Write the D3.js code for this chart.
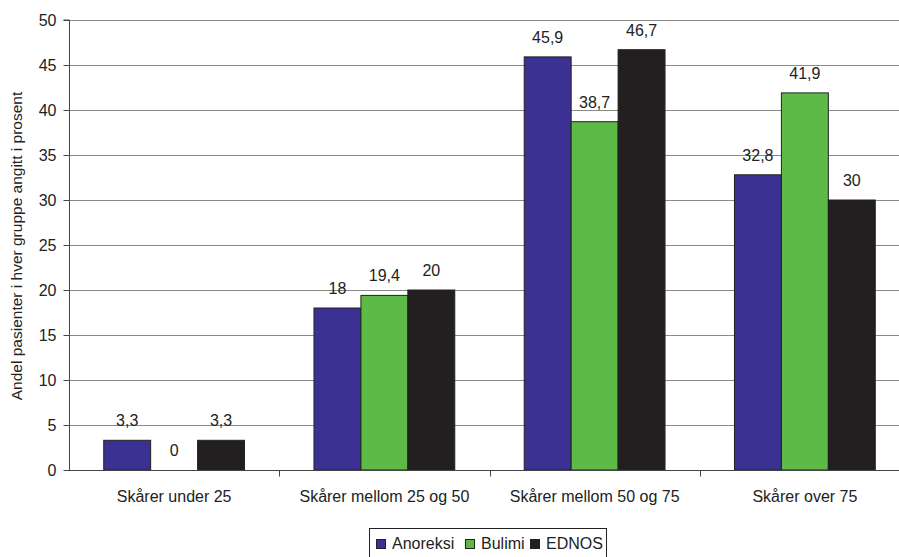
<!DOCTYPE html>
<html>
<head>
<meta charset="utf-8">
<script src="https://cdn.jsdelivr.net/npm/d3@7"></script>
<style>
  body { margin: 0; background: #fff; }
  svg { font-family: "Liberation Sans", Arial, sans-serif; }
</style>
</head>
<body>
<svg id="chart" width="899" height="557"></svg>
<script>
const categories = ["Skårer under 25", "Skårer mellom 25 og 50", "Skårer mellom 50 og 75", "Skårer over 75"];
const seriesNames = ["Anoreksi", "Bulimi", "EDNOS"];
const anoreksi = [3.3, 18, 45.9, 32.8];
const bulimi = [0, 19.4, 38.7, 41.9];
const ednos = [3.3, 20, 46.7, 30];
const yTicks = [0, 5, 10, 15, 20, 25, 30, 35, 40, 45, 50];
const colors = ["#3a3192", "#5eba47", "#231f20"];

const seriesValues = [anoreksi, bulimi, ednos];
const svgW = 899, svgH = 557;
const margin = { top: 20, left: 69, bottom: 87 };
const plotRight = 910;
const fontSize = "16px";

const svg = d3.select("#chart");

const x = d3.scaleBand()
  .domain(categories)
  .range([margin.left, plotRight])
  .padding(0);

const xs = d3.scaleBand()
  .domain(seriesNames)
  .range([0, x.bandwidth()])
  .paddingInner(0)
  .paddingOuter(0.74);

const y = d3.scaleLinear()
  .domain([0, 50])
  .range([svgH - margin.bottom, margin.top]);

// gridlines
svg.append("g")
  .selectAll("line")
  .data(yTicks.filter(d => d > 0))
  .enter()
  .append("line")
  .attr("x1", margin.left)
  .attr("x2", plotRight)
  .attr("y1", d => Math.round(y(d)) + 0.5)
  .attr("y2", d => Math.round(y(d)) + 0.5)
  .attr("stroke", "#8a8a8a")
  .attr("stroke-width", 1);

// bars
const groups = svg.append("g")
  .selectAll("g")
  .data(categories)
  .enter()
  .append("g")
  .attr("transform", d => `translate(${x(d)},0)`);

groups.selectAll("rect")
  .data((c, i) => seriesNames.map((s, j) => ({ s, j, v: seriesValues[j][i] })))
  .enter()
  .append("rect")
  .attr("x", d => xs(d.s))
  .attr("y", d => y(d.v))
  .attr("width", xs.bandwidth())
  .attr("height", d => y(0) - y(d.v))
  .attr("fill", d => colors[d.j])
  .attr("stroke", "#222")
  .attr("stroke-width", 1);

groups.selectAll("text")
  .data((c, i) => seriesNames.map((s, j) => ({ s, j, v: seriesValues[j][i] })))
  .enter()
  .append("text")
  .attr("x", d => xs(d.s) + xs.bandwidth() / 2)
  .attr("y", d => y(d.v) - 14)
  .attr("text-anchor", "middle")
  .attr("font-size", fontSize)
  .attr("fill", "#222")
  .text(d => String(d.v).replace(".", ","));

// y axis
const yAxis = svg.append("g")
  .attr("transform", `translate(${margin.left + 0.5},0)`)
  .call(d3.axisLeft(y).tickValues(yTicks).tickSize(6).tickPadding(7));
yAxis.select(".domain").attr("stroke", "#444").attr("d", `M-6,${y(50)}H0V${y(0)}`);
yAxis.selectAll(".tick line").attr("stroke", "#444");
yAxis.selectAll(".tick text")
  .attr("font-size", fontSize)
  .attr("font-family", "Liberation Sans, Arial, sans-serif")
  .attr("fill", "#222");

// x axis
const xAxis = svg.append("g")
  .attr("transform", `translate(0,${Math.round(y(0)) + 0.5})`)
  .call(d3.axisBottom(x).tickSize(0).tickPadding(20));
xAxis.select(".domain").attr("stroke", "#444").attr("d", `M${margin.left},0H${plotRight}`);
xAxis.selectAll(".tick text")
  .attr("font-size", fontSize)
  .attr("font-family", "Liberation Sans, Arial, sans-serif")
  .attr("fill", "#222");
xAxis.selectAll(".sep")
  .data(categories.slice(1))
  .enter()
  .append("line")
  .attr("class", "sep")
  .attr("x1", d => Math.round(x(d)) + 0.5)
  .attr("x2", d => Math.round(x(d)) + 0.5)
  .attr("y1", 0)
  .attr("y2", 6)
  .attr("stroke", "#444");

// y title
svg.append("text")
  .attr("transform", `translate(22,${(y(0) + y(50)) / 2 + 1}) rotate(-90)`)
  .attr("text-anchor", "middle")
  .attr("font-size", "15.5px")
  .attr("fill", "#222")
  .text("Andel pasienter i hver gruppe angitt i prosent");

// legend
const legend = svg.append("g").attr("transform", "translate(369,528)");
legend.append("rect")
  .attr("x", 0.5)
  .attr("y", 0.5)
  .attr("width", 237)
  .attr("height", 40)
  .attr("fill", "#fff")
  .attr("stroke", "#222");
const legendX = [7, 96, 161];
const items = legend.selectAll(".item")
  .data(seriesNames)
  .enter()
  .append("g")
  .attr("class", "item")
  .attr("transform", (d, i) => `translate(${legendX[i]},0)`);
items.append("rect")
  .attr("x", 0.5)
  .attr("y", 11.5)
  .attr("width", 9)
  .attr("height", 9)
  .attr("fill", (d, i) => colors[i])
  .attr("stroke", "#222");
items.append("text")
  .attr("x", 16)
  .attr("y", 21)
  .attr("font-size", fontSize)
  .attr("fill", "#222")
  .text(d => d);
</script>
</body>
</html>
